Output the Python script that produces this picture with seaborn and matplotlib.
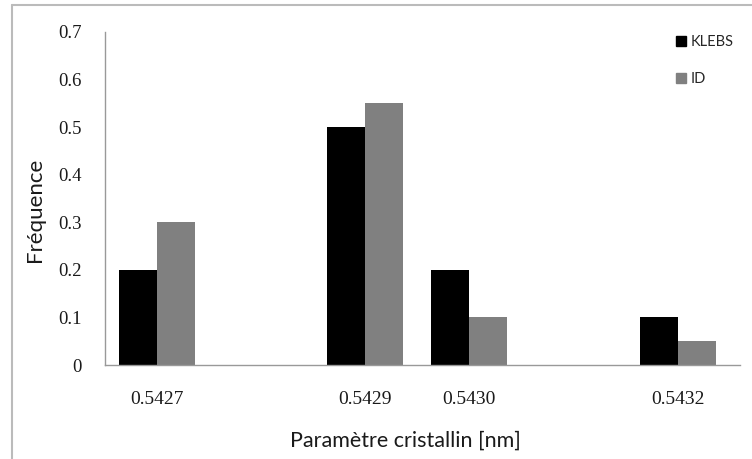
import seaborn as sns
import matplotlib.pyplot as plt
import pandas as pd
from matplotlib.lines import Line2D

# values
categories = ["0.5427", "0.5429", "0.5430", "0.5432"]
klebs = [0.2, 0.5, 0.2, 0.1]
id_vals = [0.3, 0.55, 0.1, 0.05]
# full axis, steps of 0.0001 (unlabelled ones have no bars)
all_cats = ["0.5427", "0.5428", "0.5429", "0.5430", "0.5431", "0.5432"]
yticks = [0, 0.1, 0.2, 0.3, 0.4, 0.5, 0.6, 0.7]

df = pd.DataFrame({
    "param": categories * 2,
    "freq": klebs + id_vals,
    "serie": ["KLEBS"] * len(klebs) + ["ID"] * len(id_vals),
})

sns.set_style("white")
plt.rcParams['font.family'] = ['Lato', 'DejaVu Sans']

fig = plt.figure(figsize=(7.52, 4.59), dpi=100)
ax = fig.add_axes([105/752, 1-365/459, 635/752, (365-32)/459])

sns.barplot(ax=ax, data=df, x="param", y="freq", hue="serie", order=all_cats,
            hue_order=["KLEBS", "ID"], palette=["#000000", "#808080"],
            width=0.73, saturation=1, linewidth=0, legend=False)

ax.set_xlim(-0.5, 5.6)
ax.set_ylim(0, 0.7)
ax.set_yticks(yticks)
ax.set_yticklabels(["0"] + [f"{t:.1f}" for t in yticks[1:]],
                   family="Liberation Serif", fontsize=13.5, color="#1a1a1a")
ax.set_xticks(range(len(all_cats)))
ax.set_xticklabels([c if c in categories else "" for c in all_cats],
                   family="Liberation Serif", fontsize=14, color="#1a1a1a")
ax.tick_params(axis="x", length=0, pad=19)
ax.tick_params(axis="y", length=0, pad=17)

for s in ["top", "right"]:
    ax.spines[s].set_visible(False)
for s in ["left", "bottom"]:
    ax.spines[s].set_color("#999999")
    ax.spines[s].set_linewidth(1)

ax.set_xlabel("Paramètre cristallin [nm]", fontsize=15.5, color="#1a1a1a")
ax.set_ylabel("Fréquence", fontsize=16, color="#1a1a1a")
ax.xaxis.set_label_coords((405-105)/635, -(431-365)/333)
ax.yaxis.set_label_coords(-(105-45)/635, (365-210)/333)

handles = [plt.Rectangle((0, 0), 1, 1, color="#000000"),
           plt.Rectangle((0, 0), 1, 1, color="#808080")]
ax.legend(handles, ["KLEBS", "ID"], loc="upper left",
          bbox_to_anchor=((663-105)/635, 1.03),
          frameon=False, fontsize=10.5, handlelength=0.7, handleheight=0.7,
          handletextpad=0.3, labelspacing=1.6)

# outer chart border
fig.add_artist(Line2D([12/752, 12/752], [0, 1-5/459], transform=fig.transFigure,
                      color="#bbbbbb", lw=1.5))
fig.add_artist(Line2D([12/752, 1], [1-5/459, 1-5/459], transform=fig.transFigure,
                      color="#bbbbbb", lw=1.5))

plt.savefig("out.png", dpi=100)
